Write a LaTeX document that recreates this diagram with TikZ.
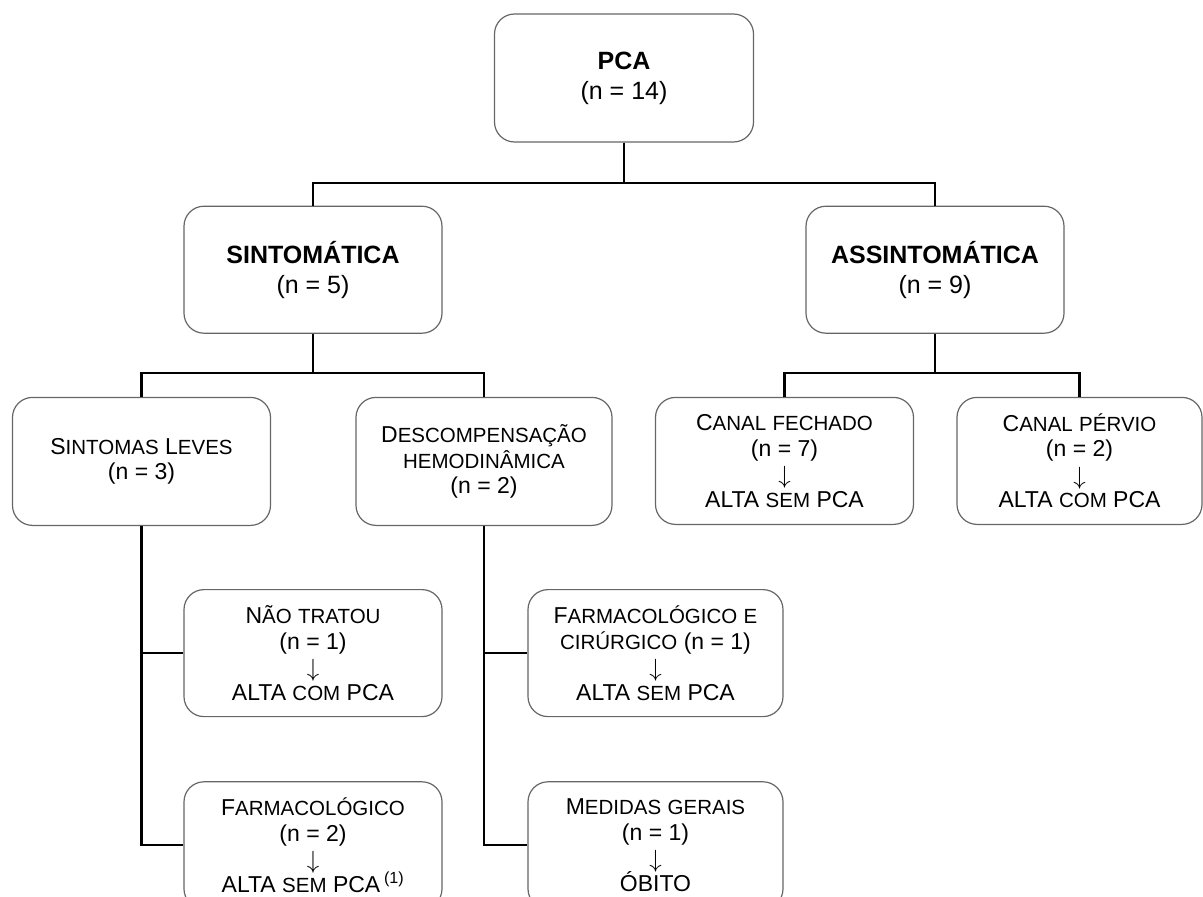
\documentclass[tikz,border=0pt]{standalone}
\usepackage{fontspec}
\setmainfont{Liberation Sans}
\usetikzlibrary{positioning}

% fake small caps
\newcommand{\sm}[1]{{\fontsize{20.5pt}{25.5pt}\selectfont #1}}
\newcommand{\dn}{\smash{\raisebox{-2pt}{\fontsize{23pt}{25.5pt}\selectfont$\downarrow$}}}

\begin{document}
\begin{tikzpicture}[
    x=1pt, y=1pt,
    mainbox/.style={rectangle, rounded corners=20pt, draw=black!60, line width=1.2pt, minimum width=258pt, minimum height=127pt, align=center, inner sep=0pt, font=\fontsize{25pt}{30pt}\selectfont},
    subbox/.style={mainbox, font=\fontsize{23pt}{25.5pt}\selectfont},
    conn/.style={line width=2.2pt, black},
    node distance=63pt
]
    \useasboundingbox (0,0) rectangle (1203,-897);
    \clip (0,0) rectangle (1203,-897);

    \node[mainbox, minimum height=128pt, minimum width=259pt] (pca) at (624,-78) {\textbf{PCA}\\(n = 14)};
    \node[mainbox, below=of pca, xshift=-311pt] (sint) {\textbf{SINTOMÁTICA}\\(n = 5)};
    \node[mainbox, below=of pca, xshift=311pt] (assint) {\textbf{ASSINTOMÁTICA}\\(n = 9)};

    \node[subbox, below=of sint, xshift=-171.5pt, minimum height=128pt] (leves) {S\sm{INTOMAS} L\sm{EVES}\\(n = 3)};
    \node[subbox, below=of sint, xshift=171pt, minimum height=128pt, minimum width=256pt] (descomp) {D\sm{ESCOMPENSAÇÃO}\\\sm{HEMODINÂMICA}\\(n = 2)};
    \node[subbox, below=of assint, xshift=-150.5pt] (fechado) {C\sm{ANAL} \sm{FECHADO}\\(n = 7)\\\dn\\ALTA \sm{SEM} PCA};
    \node[subbox, below=of assint, xshift=144.5pt, minimum width=245pt] (pervio) {C\sm{ANAL} \sm{PÉRVIO}\\(n = 2)\\\dn\\ALTA \sm{COM} PCA};

    \node[subbox, below=of leves, xshift=171.5pt] (naotratou) {N\sm{ÃO} \sm{TRATOU}\\(n = 1)\\\dn\\ALTA \sm{COM} PCA};
    \node[subbox, below=64pt of naotratou] (farm) {F\sm{ARMACOLÓGICO}\\(n = 2)\\\dn\\ALTA \sm{SEM} PCA\,\textsuperscript{(1)}};
    \node[subbox, below=of descomp, xshift=171.5pt, minimum width=255pt] (farmcir) {F\sm{ARMACOLÓGICO} \sm{E}\\\sm{CIRÚRGICO} (n = 1)\\\dn\\ALTA \sm{SEM} PCA};
    \node[subbox, below=64pt of farmcir, minimum width=255pt] (medidas) {M\sm{EDIDAS} \sm{GERAIS}\\(n = 1)\\\dn\\ÓBITO};

    \draw[conn] (pca.south) -- ++(0,-40) -| (sint.north);
    \draw[conn] (pca.south) -- ++(0,-40) -| (assint.north);
    \draw[conn] (sint.south) -- ++(0,-39) -| (leves.north);
    \draw[conn] (sint.south) -- ++(0,-39) -| (descomp.north);
    \draw[conn] (assint.south) -- ++(0,-39) -| (fechado.north);
    \draw[conn] (assint.south) -- ++(0,-39) -| (pervio.north);
    \draw[conn] (leves.south) |- (naotratou.west);
    \draw[conn] (leves.south) |- (farm.west);
    \draw[conn] (descomp.south) |- (farmcir.west);
    \draw[conn] (descomp.south) |- (medidas.west);
\end{tikzpicture}
\end{document}
